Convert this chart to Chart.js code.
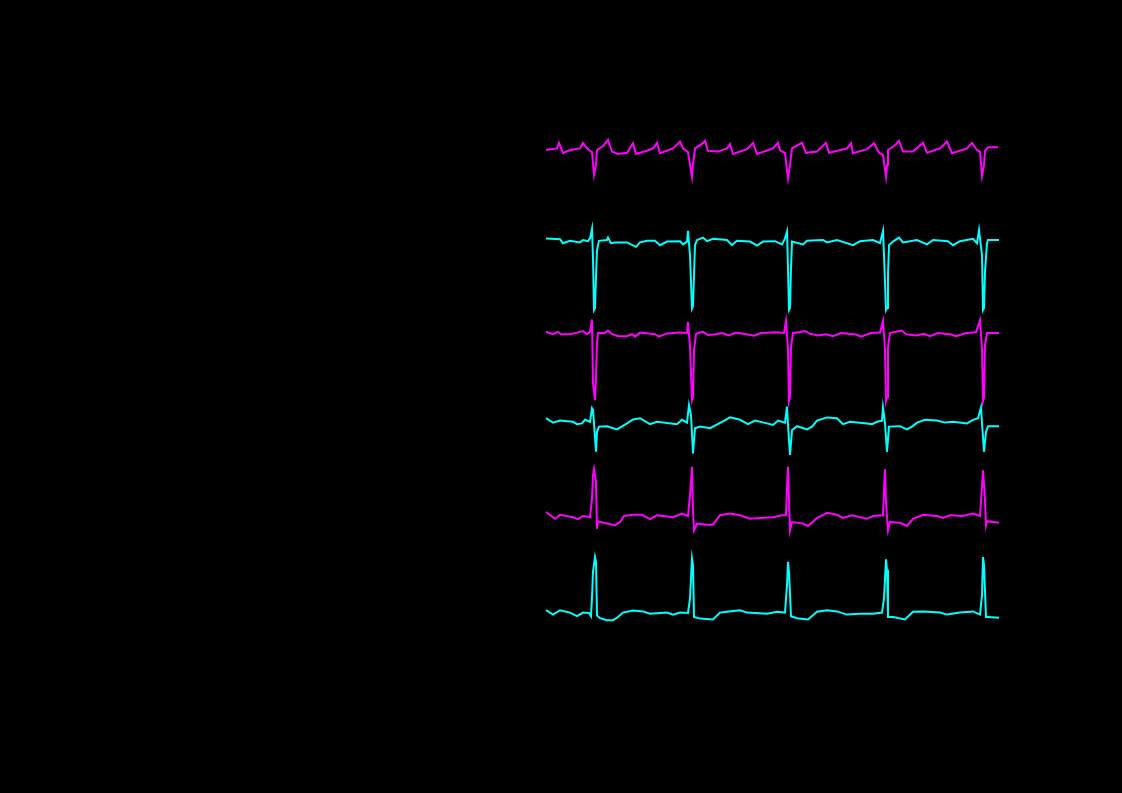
<!DOCTYPE html>
<html>
<head>
<meta charset="utf-8">
<script src="https://cdn.jsdelivr.net/npm/chart.js@4/dist/chart.umd.min.js"></script>
<style>
html,body{margin:0;padding:0;background:#000;overflow:hidden;}
canvas{display:block;}
</style>
</head>
<body>
<canvas id="c" width="1122" height="793"></canvas>
<script>
// time in seconds, amplitude in mV (relative to each lead's own baseline)
const lead1T = [0.00,0.11,0.13,0.17,0.24,0.34,0.37,0.41,0.44,0.46,0.48,0.50,0.51,0.57,0.62,0.66,0.72,0.81,0.87,0.90,1.01,1.07,1.11,1.14,1.27,1.34,1.37,1.42,1.46,1.47,1.49,1.57,1.59,1.62,1.72,1.81,1.84,1.87,2.01,2.07,2.11,2.27,2.32,2.34,2.39,2.42,2.44,2.46,2.56,2.60,2.71,2.80,2.83,3.01,3.05,3.07,3.21,3.28,3.33,3.37,3.40,3.41,3.42,3.49,3.53,3.57,3.67,3.77,3.81,3.94,4.01,4.06,4.21,4.26,4.31,4.34,4.36,4.38,4.39,4.42,4.52];
const lead1V = [0.00,0.04,0.18,-0.08,0.00,0.04,0.18,0.04,-0.02,-0.05,-0.62,-0.38,0.00,0.10,0.25,-0.04,-0.10,-0.07,0.17,-0.10,-0.02,0.04,0.18,-0.08,0.04,0.21,0.04,-0.05,-0.67,-0.38,0.04,0.17,0.23,-0.02,-0.04,0.04,0.15,-0.10,0.02,0.18,-0.10,0.04,0.18,0.00,-0.08,-0.71,-0.38,0.04,0.18,-0.07,-0.04,0.18,-0.07,0.04,0.17,-0.08,0.02,0.17,-0.07,-0.12,-0.67,-0.38,0.00,0.12,0.23,-0.04,-0.04,0.18,-0.07,0.04,0.21,-0.08,0.04,0.18,0.00,-0.04,-0.65,-0.38,-0.02,0.07,0.07];

const lead2T = [0.00,0.14,0.17,0.24,0.34,0.37,0.42,0.44,0.46,0.47,0.48,0.49,0.50,0.51,0.53,0.61,0.62,0.65,0.69,0.81,0.90,0.94,1.01,1.09,1.14,1.21,1.34,1.37,1.41,1.42,1.44,1.46,1.47,1.48,1.49,1.51,1.57,1.61,1.67,1.81,1.86,1.91,2.04,2.11,2.17,2.29,2.36,2.39,2.41,2.42,2.43,2.44,2.45,2.46,2.57,2.61,2.77,2.81,2.91,3.07,3.14,3.27,3.34,3.37,3.38,3.40,3.41,3.42,3.43,3.47,3.53,3.57,3.71,3.81,3.87,4.02,4.07,4.14,4.27,4.31,4.33,4.36,4.37,4.38,4.39,4.41,4.42,4.53];
const lead2V = [0.04,0.02,-0.08,-0.02,-0.06,0.00,-0.03,0.04,0.28,-0.46,-1.75,-1.70,-0.92,-0.25,-0.02,0.00,0.06,-0.08,-0.06,-0.06,-0.17,-0.06,-0.02,-0.02,-0.13,-0.04,-0.03,-0.11,-0.04,0.23,-0.38,-1.71,-1.65,-0.88,-0.13,0.00,0.06,-0.03,0.03,0.00,-0.13,-0.02,-0.04,-0.14,-0.04,-0.03,-0.11,0.04,0.21,-0.71,-1.75,-1.70,-0.71,-0.04,-0.11,-0.02,0.00,-0.06,0.00,-0.13,-0.03,0.00,-0.08,0.23,-0.38,-1.75,-1.70,-0.88,-0.13,-0.04,0.06,-0.06,0.00,-0.11,0.00,-0.03,-0.13,-0.03,0.03,-0.08,0.25,-0.38,-1.75,-1.70,-0.79,-0.08,0.00,0.00];

const lead3T = [0.00,0.07,0.12,0.15,0.24,0.31,0.37,0.41,0.44,0.46,0.47,0.49,0.50,0.51,0.52,0.59,0.62,0.66,0.72,0.81,0.86,0.89,0.94,1.09,1.13,1.21,1.34,1.41,1.42,1.44,1.46,1.47,1.48,1.50,1.52,1.57,1.62,1.70,1.76,1.83,1.90,2.00,2.08,2.15,2.30,2.38,2.40,2.42,2.43,2.44,2.45,2.47,2.53,2.59,2.64,2.72,2.80,2.87,2.95,3.10,3.15,3.25,3.34,3.37,3.39,3.40,3.41,3.42,3.44,3.50,3.56,3.60,3.70,3.78,3.84,3.92,4.05,4.10,4.20,4.30,4.34,4.36,4.37,4.38,4.39,4.41,4.53];
const lead3V = [0.03,-0.03,0.03,-0.03,-0.03,0.01,0.05,-0.03,0.03,0.34,-1.26,-1.68,-1.10,-0.26,0.00,0.00,0.06,-0.03,-0.08,-0.08,-0.03,-0.09,0.01,-0.03,-0.09,-0.01,0.01,0.00,0.28,-0.34,-1.68,-1.60,-0.43,-0.03,0.00,0.03,-0.05,-0.03,0.00,-0.06,0.01,-0.03,-0.07,0.00,0.02,0.00,0.30,-0.40,-1.70,-1.60,-0.35,0.00,0.02,0.05,-0.02,-0.06,-0.03,-0.08,0.00,-0.04,-0.09,0.00,0.01,0.30,-0.40,-1.70,-1.60,-0.35,0.00,0.03,0.06,-0.03,-0.06,-0.02,-0.08,0.00,-0.04,-0.08,0.00,0.02,0.32,-0.40,-1.70,-1.60,-0.30,0.00,0.00];

const lead4T = [0.00,0.07,0.14,0.27,0.31,0.36,0.39,0.44,0.46,0.47,0.48,0.50,0.51,0.53,0.61,0.71,0.81,0.87,0.94,1.04,1.11,1.31,1.36,1.41,1.43,1.45,1.47,1.49,1.54,1.64,1.76,1.84,1.94,2.02,2.09,2.21,2.27,2.32,2.39,2.41,2.42,2.44,2.46,2.51,2.61,2.66,2.71,2.81,2.91,2.97,3.04,3.21,3.26,3.31,3.36,3.37,3.39,3.41,3.43,3.54,3.61,3.66,3.71,3.79,3.91,3.99,4.07,4.21,4.27,4.32,4.35,4.36,4.38,4.40,4.42,4.53];
const lead4V = [0.12,0.01,0.06,0.03,-0.03,-0.01,0.08,0.03,0.37,0.33,-0.01,-0.72,-0.22,-0.09,-0.08,-0.16,-0.01,0.09,0.12,-0.03,0.03,-0.03,0.08,0.01,0.45,0.20,-0.76,-0.13,-0.09,-0.13,0.03,0.14,0.08,-0.03,0.06,-0.01,-0.05,0.06,0.01,0.41,-0.05,-0.80,-0.18,-0.08,-0.16,-0.09,0.06,0.14,0.12,-0.03,0.03,-0.01,-0.03,0.03,0.06,0.39,0.00,-0.72,-0.09,-0.08,-0.16,-0.09,0.01,0.08,0.06,0.01,0.03,-0.01,0.08,0.12,0.39,0.00,-0.72,-0.22,-0.08,-0.08];

const lead5T = [0.00,0.09,0.14,0.27,0.32,0.37,0.44,0.46,0.47,0.48,0.50,0.51,0.52,0.61,0.69,0.74,0.78,0.87,0.96,1.04,1.11,1.27,1.36,1.42,1.44,1.46,1.47,1.48,1.51,1.61,1.67,1.74,1.84,1.94,2.04,2.14,2.27,2.36,2.40,2.41,2.42,2.43,2.44,2.46,2.57,2.62,2.71,2.81,2.91,2.97,3.06,3.21,3.27,3.37,3.38,3.39,3.40,3.42,3.44,3.54,3.61,3.67,3.77,3.91,3.97,4.04,4.17,4.27,4.34,4.36,4.37,4.39,4.40,4.41,4.53];
const lead5V = [0.10,-0.07,0.03,-0.03,-0.08,0.00,-0.03,0.43,1.02,1.17,0.85,-0.32,-0.13,-0.19,-0.23,-0.15,0.00,0.03,0.03,-0.08,0.02,-0.03,0.06,0.00,0.52,1.23,0.10,-0.36,-0.19,-0.22,-0.22,0.02,0.06,0.02,-0.07,-0.05,-0.03,0.02,0.02,0.73,1.23,0.40,-0.36,-0.15,-0.19,-0.25,-0.05,0.08,0.03,-0.05,0.02,-0.07,0.00,0.02,0.65,1.17,0.35,-0.36,-0.15,-0.17,-0.25,-0.07,0.03,0.00,-0.05,0.02,0.00,0.06,0.00,0.73,1.14,0.40,-0.23,-0.13,-0.17];

const lead6T = [0.00,0.07,0.14,0.24,0.31,0.37,0.43,0.45,0.46,0.47,0.49,0.50,0.51,0.54,0.61,0.67,0.72,0.77,0.87,0.97,1.04,1.21,1.27,1.34,1.42,1.44,1.46,1.47,1.48,1.54,1.67,1.74,1.81,1.94,2.01,2.21,2.31,2.39,2.41,2.42,2.43,2.45,2.51,2.62,2.71,2.81,2.91,3.01,3.14,3.27,3.36,3.38,3.40,3.41,3.42,3.47,3.59,3.67,3.77,3.94,4.01,4.14,4.27,4.34,4.36,4.37,4.38,4.40,4.42,4.53];
const lead6V = [0.07,-0.04,0.07,0.01,-0.08,0.01,0.00,-0.08,0.40,1.03,1.40,1.28,-0.06,-0.13,-0.18,-0.18,-0.10,0.01,0.06,0.04,-0.02,0.01,-0.04,0.01,0.00,0.36,1.36,1.20,-0.10,-0.14,-0.16,0.01,0.03,0.07,0.01,-0.02,0.03,0.01,0.69,1.28,1.03,-0.08,-0.13,-0.16,0.03,0.07,0.04,-0.04,-0.02,-0.02,0.01,0.36,1.34,1.08,-0.10,-0.10,-0.16,0.03,0.04,0.01,-0.04,0.01,0.04,-0.04,0.44,1.40,1.20,-0.10,-0.10,-0.12];

const leadColors = ['#ff00ff','#00ffff','#ff00ff','#00ffff','#ff00ff','#00ffff'];

// layout: vertical offset of each lead's baseline (mV) on the shared axis
const leadOffsets = [-3.75,-6.0,-8.325,-10.575,-12.9,-15.325];

const leads = [[lead1T,lead1V],[lead2T,lead2V],[lead3T,lead3V],[lead4T,lead4V],[lead5T,lead5V],[lead6T,lead6V]];

const datasets = leads.map((l,i)=>({
  data: l[0].map((t,j)=>({x:t, y:l[1][j] + leadOffsets[i]})),
  borderColor: leadColors[i],
  borderWidth: 2,
  pointRadius: 0,
  tension: 0,
  fill: false
}));

const bgPlugin = {
  id:'bg',
  beforeDraw(chart){
    const ctx = chart.ctx;
    ctx.save();
    ctx.fillStyle = '#000';
    ctx.fillRect(0,0,chart.width,chart.height);
    ctx.restore();
  }
};

new Chart(document.getElementById('c'), {
  type:'line',
  data:{datasets},
  options:{
    responsive:false,
    animation:false,
    events:[],
    layout:{padding:0},
    plugins:{legend:{display:false},tooltip:{enabled:false},title:{display:false}},
    scales:{
      x:{type:'linear',min:-5.46,max:5.76,display:false},
      y:{type:'linear',min:-19.825,max:0,display:false}
    }
  },
  plugins:[bgPlugin]
});
</script>
</body>
</html>
